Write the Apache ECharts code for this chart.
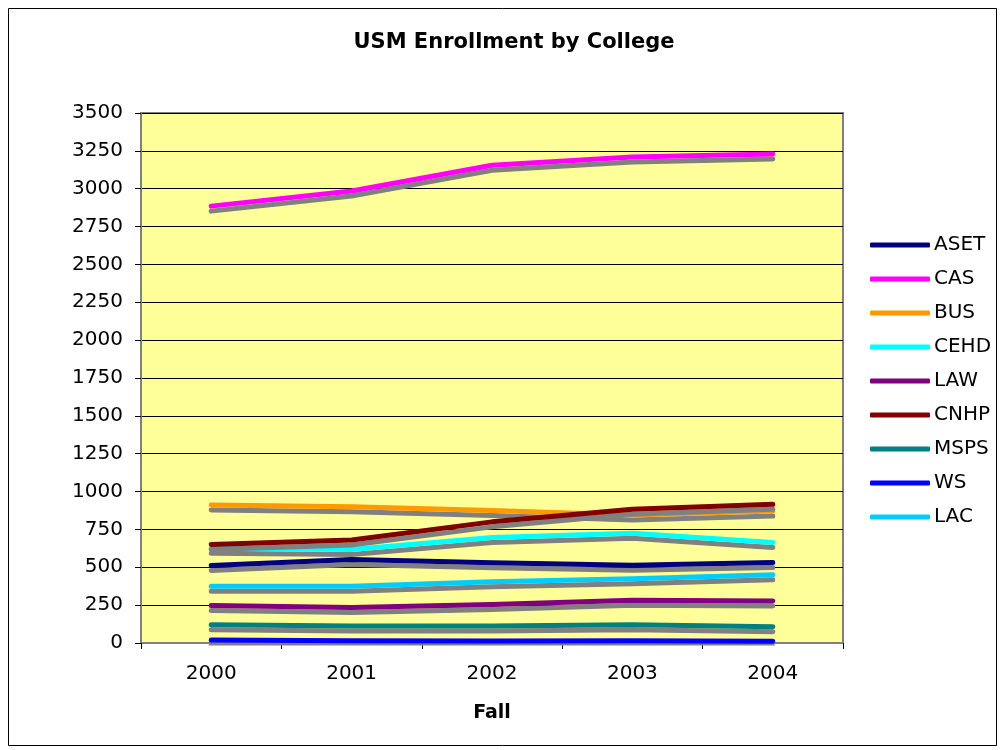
<!DOCTYPE html>
<html>
<head>
<meta charset="utf-8">
<script src="https://cdn.jsdelivr.net/npm/echarts@6/dist/echarts.min.js"></script>
<style>html,body{margin:0;padding:0;background:#fff;}#c{width:1001px;height:750px;}</style>
</head>
<body>
<div id="c"></div>
<script>
var years = ['2000', '2001', '2002', '2003', '2004'];
var seriesNames = ['ASET', 'CAS', 'BUS', 'CEHD', 'LAW', 'CNHP', 'MSPS', 'WS', 'LAC'];
var ASET = [512, 552, 530, 514, 532];
var CAS  = [2885, 2985, 3155, 3210, 3230];
var BUS  = [912, 900, 875, 845, 872];
var CEHD = [625, 618, 697, 724, 664];
var LAW  = [247, 234, 254, 283, 278];
var CNHP = [651, 680, 800, 883, 916];
var MSPS = [121, 113, 113, 121, 108];
var WS   = [20, 15, 13, 15, 11];
var LAC  = [375, 375, 404, 424, 450];
var seriesData = [ASET, CAS, BUS, CEHD, LAW, CNHP, MSPS, WS, LAC];
var colors = ['#000080', '#FF00FF', '#FF9900', '#00FFFF', '#800080', '#800000', '#008080', '#0000FF', '#00CCFF'];

var chart = echarts.init(document.getElementById('c'));
var font = 'DejaVu Sans, Arial, sans-serif';
chart.setOption({
  animation: false,
  color: colors,
  title: {
    text: 'USM Enrollment by College',
    left: 509, top: 27, textAlign: 'center',
    textStyle: {fontFamily: font, fontSize: 21, fontWeight: 'bold', color: '#000'}
  },
  graphic: [{
    type: 'rect', shape: {x: 8.5, y: 8.5, width: 988, height: 737},
    style: {fill: 'none', stroke: '#000', lineWidth: 1}, silent: true, z: -1
  }],
  legend: {
    orient: 'vertical', left: 870, top: 235, padding: 0,
    icon: 'roundRect',
    itemWidth: 60, itemHeight: 5, itemGap: 14,
    textStyle: {fontFamily: font, fontSize: 20, color: '#000', lineHeight: 20, padding: [0, 0, 0, -1]},
    data: seriesNames
  },
  grid: {
    left: 141, right: 158, top: 113, bottom: 107,
    show: true, backgroundColor: '#FFFF99', borderColor: '#808080', borderWidth: 2
  },
  xAxis: {
    type: 'category', data: years, boundaryGap: true,
    name: 'Fall', nameLocation: 'middle', nameGap: 61,
    nameTextStyle: {fontFamily: font, fontSize: 19, fontWeight: 'bold', color: '#000'},
    axisLine: {lineStyle: {color: '#808080', width: 2}},
    axisTick: {show: true, length: 6, lineStyle: {color: '#000'}},
    axisLabel: {fontFamily: font, fontSize: 20, color: '#000', margin: 21},
    splitLine: {show: false}
  },
  yAxis: {
    type: 'value', min: 0, max: 3500, interval: 250,
    axisLine: {show: true, lineStyle: {color: '#808080', width: 2}},
    axisTick: {show: true, length: 6, lineStyle: {color: '#000'}},
    axisLabel: {fontFamily: font, fontSize: 20, color: '#000', margin: 18, formatter: function (v) { return String(v); }},
    splitLine: {show: true, lineStyle: {color: '#000', width: 1}}
  },
  series: seriesNames.map(function (n, i) {
    return {
      name: n, type: 'line', data: seriesData[i],
      symbol: 'none', showSymbol: false,
      lineStyle: {width: 5, color: colors[i], shadowColor: '#808080', shadowBlur: 0, shadowOffsetX: 0, shadowOffsetY: 5, cap: 'round', join: 'round'},
      itemStyle: {color: colors[i]}
    };
  })
});
</script>
</body>
</html>
